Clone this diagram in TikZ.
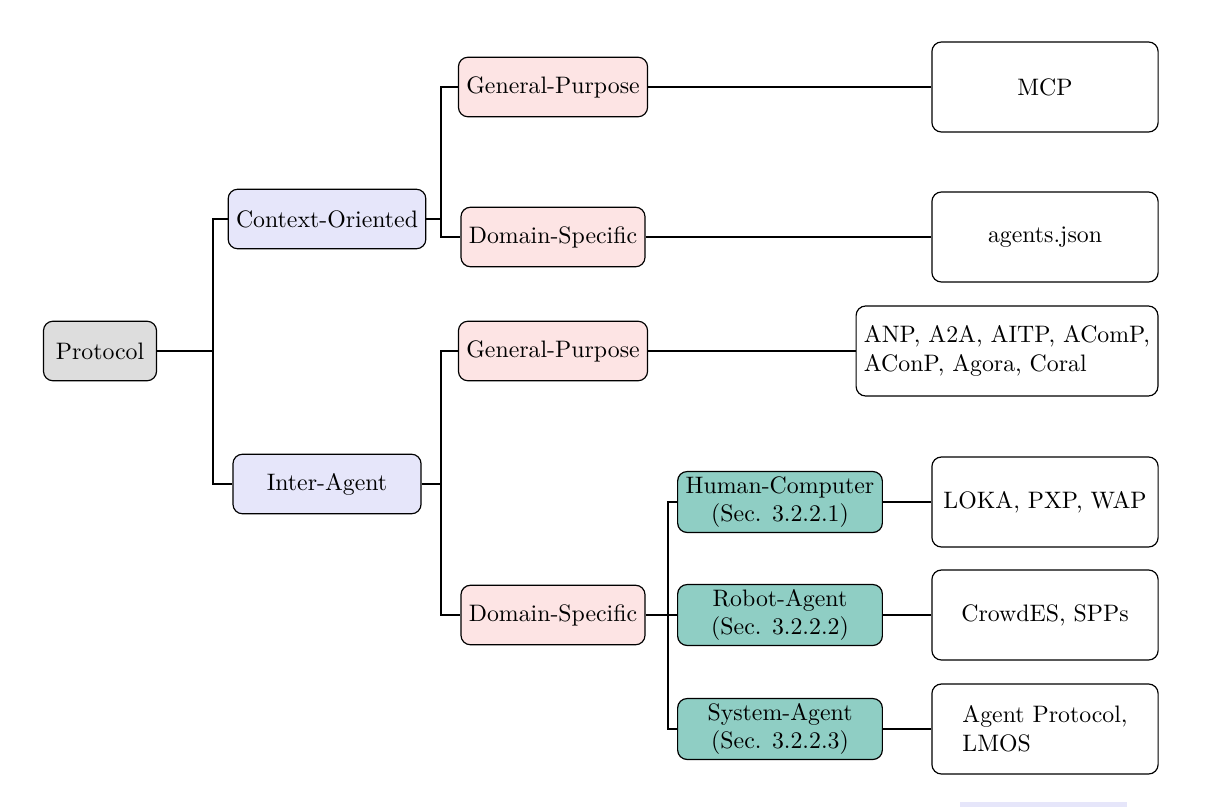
\documentclass[tikz,border=0pt]{standalone}
\usepackage{tikz}
\usetikzlibrary{positioning}
\definecolor{RootGray}{RGB}{221,221,221}
\definecolor{CatBlue}{RGB}{230,230,250}
\definecolor{SubPink}{RGB}{253,228,228}
\definecolor{SecTeal}{RGB}{143,206,196}

\begin{document}
\begin{tikzpicture}[x=0.42pt, y=-0.42pt,
  box/.style={draw, rounded corners=4pt, line width=0.5pt, inner sep=3.3pt},
  rootbox/.style={box, fill=RootGray, minimum width=47.5pt, minimum height=25pt},
  catbox/.style={box, fill=CatBlue, minimum width=79pt, minimum height=25pt},
  subbox/.style={box, fill=SubPink, minimum width=77pt, minimum height=25pt},
  secbox/.style={box, fill=SecTeal, align=center, minimum width=86pt, minimum height=25.6pt, inner ysep=1pt},
  leafbox/.style={box, fill=white, align=left, minimum width=95pt, minimum height=37.8pt},
  link/.style={line width=0.5pt}]
  \useasboundingbox (0,0) rectangle (1207,807);

  % Root and categories
  \node[rootbox] (proto) at (100,351) {Protocol};
  \node[catbox] (ctx) at (327,219) {Context-Oriented};
  \node[catbox] (inter) at (327,484) {Inter-Agent};

  % Sub-categories
  \node[subbox] (ctxgp) at (553,87) {General-Purpose};
  \node[subbox] (ctxds) at (553,237) {Domain-Specific};
  \node[subbox] (intgp) at (553,351) {General-Purpose};
  \node[subbox] (intds) at (553,615) {Domain-Specific};

  % Sections
  \node[secbox] (human) at (780,502) {Human-Computer\\(Sec. 3.2.2.1)};
  \node[secbox] (robot) at (780,615) {Robot-Agent\\(Sec. 3.2.2.2)};
  \node[secbox] (system) at (780,729) {System-Agent\\(Sec. 3.2.2.3)};

  % Protocols
  \node[leafbox] (mcp) at (1045,87) {MCP};
  \node[leafbox] (agjson) at (1045,237) {agents.json};
  \node[leafbox, minimum width=0pt] (anp) at (1007,351) {ANP, A2A, AITP, AComP,\\AConP, Agora, Coral};
  \node[leafbox] (loka) at (1045,502) {LOKA, PXP, WAP};
  \node[leafbox] (crowd) at (1045,615) {CrowdES, SPPs};
  \node[leafbox] (agprot) at (1045,729) {Agent Protocol,\\LMOS};

  % Bus points
  \coordinate (b1) at (213,351);
  \coordinate (b2) at (441,219);
  \coordinate (b3) at (441,484);
  \coordinate (b4) at (668,615);

  % Tree links
  \draw[link] (proto.east) -- (b1);
  \draw[link] (ctx.west) -| (b1) |- (inter.west);
  \draw[link] (ctx.east) -- (b2);
  \draw[link] (ctxgp.west) -| (b2) |- (ctxds.west);
  \draw[link] (inter.east) -- (b3);
  \draw[link] (intgp.west) -| (b3) |- (intds.west);
  \draw[link] (intds.east) -- (b4);
  \draw[link] (human.west) -| (b4) |- (system.west);
  \draw[link] (b4) -- (robot.west);

  % Leaf links
  \draw[link] (ctxgp.east) -- (mcp.west);
  \draw[link] (ctxds.east) -- (agjson.west);
  \draw[link] (intgp.east) -- (anp.west);
  \draw[link] (human.east) -- (loka.west);
  \draw[link] (robot.east) -- (crowd.west);
  \draw[link] (system.east) -- (agprot.west);

  % Cut-off strip at the bottom
  \fill[CatBlue] (960,802) rectangle (1127,807);
\end{tikzpicture}
\end{document}
